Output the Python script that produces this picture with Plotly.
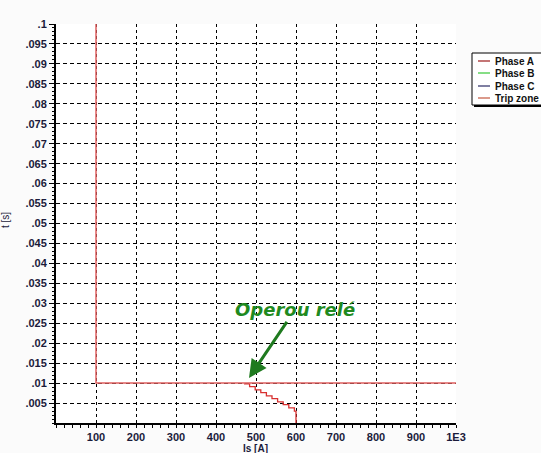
import plotly.graph_objects as go

# Data
trip_is = [100, 100, 1000]
trip_t = [0.1, 0.01, 0.01]
phaseA_is = [470, 484, 498, 512, 526, 540, 554, 568, 582, 596, 600]
phaseA_t = [0.0098, 0.0091, 0.0083, 0.0076, 0.0068, 0.0061, 0.0053, 0.0046, 0.0038, 0.0030, 0.0]
x_ticks = [100, 200, 300, 400, 500, 600, 700, 800, 900, 1000]
x_labels = ["100", "200", "300", "400", "500", "600", "700", "800", "900", "1E3"]
y_ticks = [0.005, 0.01, 0.015, 0.02, 0.025, 0.03, 0.035, 0.04, 0.045, 0.05,
           0.055, 0.06, 0.065, 0.07, 0.075, 0.08, 0.085, 0.09, 0.095, 0.1]
y_labels = [".005", ".01", ".015", ".02", ".025", ".03", ".035", ".04", ".045", ".05",
            ".055", ".06", ".065", ".07", ".075", ".08", ".085", ".09", ".095", ".1"]
legend_names = ["Phase A", "Phase B", "Phase C", "Trip zone"]
legend_colors = ["#a52a2a", "#44cc44", "#3a3a70", "#c8644c"]

W, H = 541, 453
L, R, T, B = 56, 85, 24, 30
PW, PH = W - L - R, H - T - B


def px(xp):
    return (xp - L) / PW


def py(yp):
    return (H - B - yp) / PH


fig = go.Figure()
fig.add_trace(go.Scatter(x=phaseA_is, y=phaseA_t, mode="lines", name=legend_names[0],
                         line=dict(color="#d83030", width=1.3, shape="hv")))
fig.add_trace(go.Scatter(x=trip_is, y=trip_t, mode="lines", name=legend_names[3],
                         line=dict(color="#e06060", width=1.5)))

fig.add_annotation(x=482.5, y=0.0113, xref="x", yref="y",
                   text="<b><i>Operou relé</i></b>", showarrow=True,
                   ax=46, ay=-68, arrowhead=2, arrowsize=1.2, arrowwidth=3,
                   arrowcolor="#1f7a1f",
                   font=dict(family="DejaVu Sans", size=18, color="#1f8a1f"))

# axis titles
fig.add_annotation(x=px(5), y=py(220), xref="paper", yref="paper", text="t [s]",
                   xanchor="center", yanchor="middle",
                   textangle=-90, showarrow=False, font=dict(size=10, color="#1a1a3a"))
fig.add_annotation(x=px(255), y=py(448), xref="paper", yref="paper", text="Is [A]",
                   xanchor="center", yanchor="middle",
                   showarrow=False, font=dict(size=10, color="#1a1a3a", weight="bold"))

# custom legend box
shapes = [
    dict(type="rect", xref="paper", yref="paper", x0=px(474), x1=px(548), y0=py(107), y1=py(55),
         fillcolor="black", line=dict(width=0), layer="above"),
    dict(type="rect", xref="paper", yref="paper", x0=px(472), x1=px(546), y0=py(105), y1=py(53),
         fillcolor="white", line=dict(color="black", width=1), layer="above"),
]
rows = [61, 73, 86, 98]
for name, col, r in zip(legend_names, legend_colors, rows):
    shapes.append(dict(type="line", xref="paper", yref="paper", x0=px(478), x1=px(490),
                       y0=py(r), y1=py(r), line=dict(color=col, width=1.3), layer="above"))
    fig.add_annotation(x=px(493), y=py(r), xref="paper", yref="paper", text=name,
                       xanchor="left", yanchor="middle", showarrow=False,
                       font=dict(size=10, color="#111111", weight="bold"))

fig.update_layout(
    width=W, height=H,
    margin=dict(l=L, r=R, t=T, b=B),
    paper_bgcolor="#fbfbfb", plot_bgcolor="white",
    font=dict(family="Arial", size=11, color="#1a1a3a"),
    showlegend=False,
    shapes=shapes,
)
fig.update_xaxes(range=[0, 1000], tickvals=x_ticks, ticktext=x_labels, automargin=False,
                 showline=True, linecolor="black", linewidth=2,
                 ticks="outside", ticklen=3, tickcolor="black",
                 showgrid=True, gridcolor="black", gridwidth=1, griddash="3px,3px",
                 zeroline=False, tickfont=dict(size=11, weight="bold"),
                 minor=dict(dtick=20, ticks="outside", ticklen=3, tickcolor="black", showgrid=False))
fig.update_yaxes(range=[0, 0.1], tickvals=y_ticks, ticktext=y_labels, automargin=False,
                 showline=True, linecolor="black", linewidth=2,
                 ticks="outside", ticklen=5, tickcolor="black",
                 showgrid=True, gridcolor="black", gridwidth=1, griddash="4px,3px",
                 zeroline=False, tickfont=dict(size=11, weight="bold"),
                 minor=dict(dtick=0.001, ticks="outside", ticklen=2, tickcolor="black", showgrid=False))

fig.write_html("out.html", config={"displayModeBar": False},
               post_script="document.body.style.margin='0';document.body.style.overflow='hidden';")
